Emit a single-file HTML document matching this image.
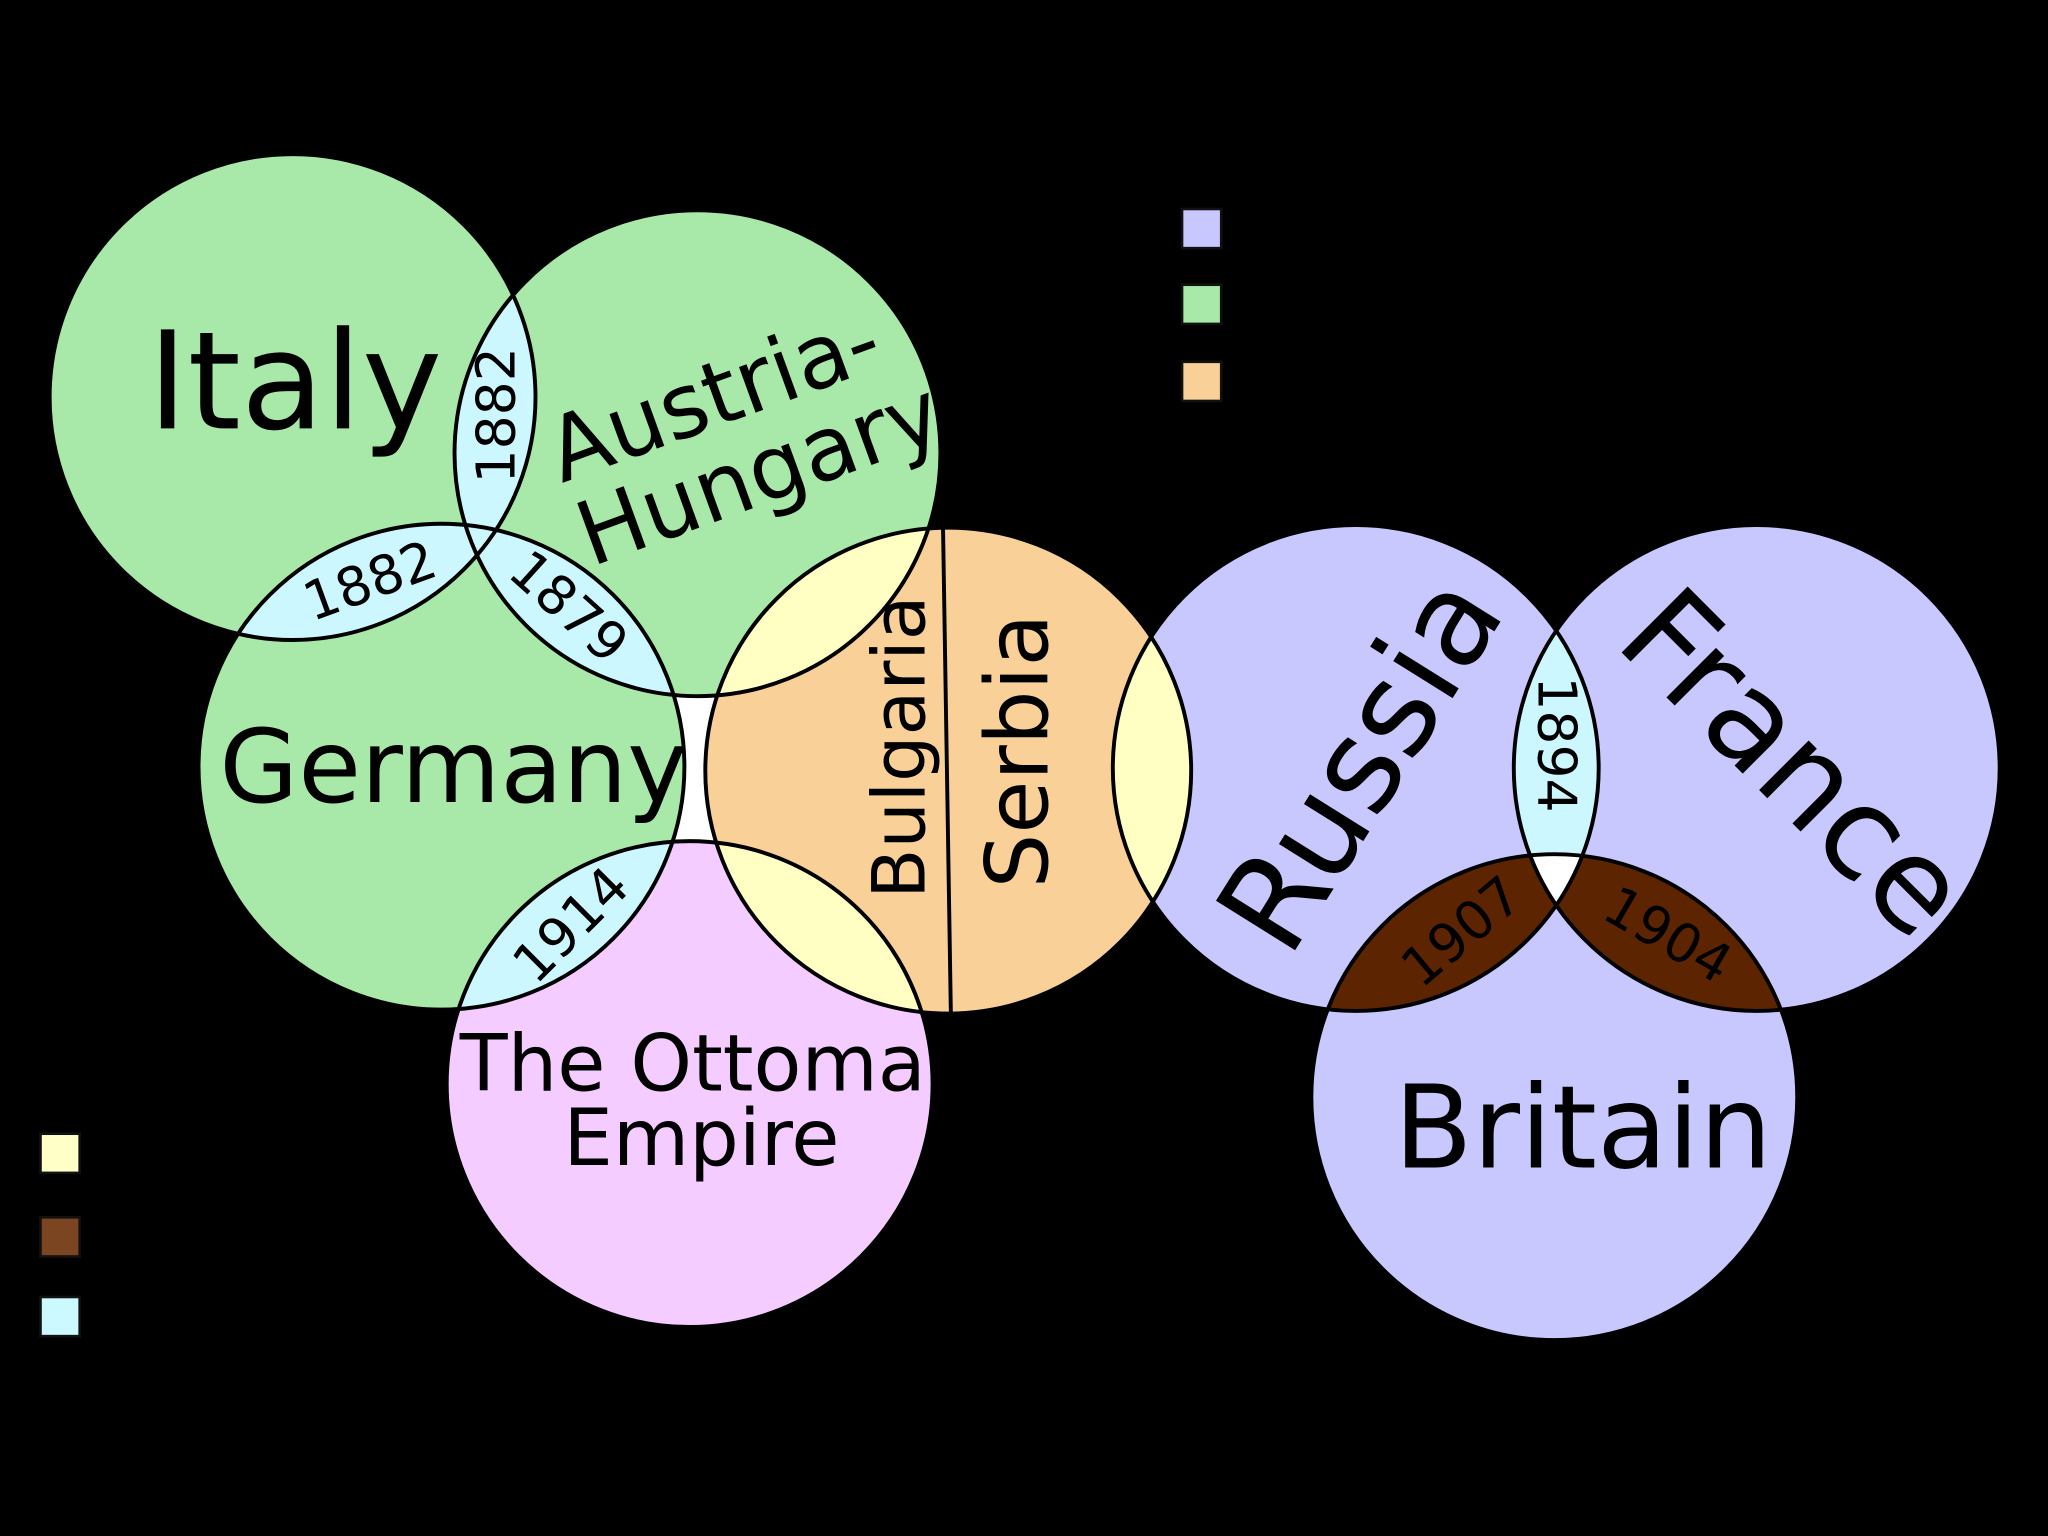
<!DOCTYPE html>
<html><head><meta charset="utf-8"><style>html,body{margin:0;padding:0;background:#000}svg{display:block}</style></head><body>
<svg width="2048" height="1536" viewBox="0 0 1568 1176" xmlns="http://www.w3.org/2000/svg" font-family="'DejaVu Sans','Liberation Sans',sans-serif">
<defs>
<clipPath id="cIt"><circle cx="224" cy="304" r="186"/></clipPath>
<clipPath id="cAu"><circle cx="534" cy="347" r="186"/></clipPath>
<clipPath id="cGe"><circle cx="338" cy="587" r="186"/></clipPath>
<clipPath id="cBu"><circle cx="726" cy="590" r="186"/></clipPath>
<clipPath id="cOt"><circle cx="528" cy="830" r="186"/></clipPath>
<clipPath id="cRu"><circle cx="1038" cy="588" r="186"/></clipPath>
<clipPath id="cFr"><circle cx="1345" cy="588" r="186"/></clipPath>
<clipPath id="cBr"><circle cx="1190" cy="840" r="186"/></clipPath>
</defs>
<rect width="1568" height="1176" fill="#000"/>
<rect x="515" y="530" width="35" height="118" fill="#fff"/>
<g>
<circle cx="224" cy="304" r="186" fill="#a8e8a8"/>
<circle cx="534" cy="347" r="186" fill="#a8e8a8"/>
<circle cx="338" cy="587" r="186" fill="#a8e8a8"/>
<circle cx="528" cy="830" r="186" fill="#f4ccff"/>
<circle cx="726" cy="590" r="186" fill="#f8d098"/>
<circle cx="1038" cy="588" r="186" fill="#c8c8ff"/>
<circle cx="1345" cy="588" r="186" fill="#c8c8ff"/>
<circle cx="1190" cy="840" r="186" fill="#c8c8ff"/>
</g>
<g clip-path="url(#cIt)"><circle cx="534" cy="347" r="186" fill="#ccf7ff"/><circle cx="338" cy="587" r="186" fill="#ccf7ff"/></g>
<g clip-path="url(#cAu)"><circle cx="338" cy="587" r="186" fill="#ccf7ff"/></g>
<g clip-path="url(#cGe)"><circle cx="528" cy="830" r="186" fill="#ccf7ff"/></g>
<g clip-path="url(#cBu)"><circle cx="534" cy="347" r="186" fill="#ffffc4"/><circle cx="528" cy="830" r="186" fill="#ffffc4"/><circle cx="1038" cy="588" r="186" fill="#ffffc4"/></g>
<g clip-path="url(#cRu)"><circle cx="1345" cy="588" r="186" fill="#ccf7ff"/><circle cx="1190" cy="840" r="186" fill="#5c2400"/></g>
<g clip-path="url(#cFr)"><circle cx="1190" cy="840" r="186" fill="#5c2400"/></g>
<g clip-path="url(#cRu)"><g clip-path="url(#cFr)"><circle cx="1190" cy="840" r="186" fill="#fff"/></g></g>
<g fill="none" stroke="#000" stroke-width="3">
<circle cx="224" cy="304" r="186"/>
<circle cx="534" cy="347" r="186"/>
<circle cx="338" cy="587" r="186"/>
<circle cx="528" cy="830" r="186"/>
<circle cx="726" cy="590" r="186"/>
<circle cx="1038" cy="588" r="186"/>
<circle cx="1345" cy="588" r="186"/>
<circle cx="1190" cy="840" r="186"/>
<line x1="722" y1="404" x2="728" y2="776"/>
</g>
<g fill="#000">
<text x="113" y="328" font-size="104">Italy</text>
<g transform="translate(558,334) rotate(-20)" font-size="68" text-anchor="middle"><text x="0" y="-10">Austria-</text><text x="12" y="58">Hungary</text></g>
<text x="168" y="614" font-size="78">Germany</text>
<text transform="translate(708,572) rotate(-90)" font-size="56" text-anchor="middle">Bulgaria</text>
<text transform="translate(802,575) rotate(-90)" font-size="66" text-anchor="middle">Serbia</text>
<text x="352" y="835" font-size="60">The Ottoma</text>
<text x="537" y="892" font-size="60" text-anchor="middle">Empire</text>
<text transform="translate(1070,602) rotate(-58)" font-size="98" text-anchor="middle">Russia</text>
<text transform="translate(1350,608) rotate(45)" font-size="98" text-anchor="middle">France</text>
<text x="1212" y="894" font-size="88" text-anchor="middle">Britain</text>
<g font-size="41" text-anchor="middle">
<text transform="translate(394,318) rotate(-90)">1882</text>
<text transform="translate(288,458) rotate(-20)">1882</text>
<text transform="translate(426,475) rotate(42)">1879</text>
<text transform="translate(447,718) rotate(-45)">1914</text>
<text transform="translate(1178,570) rotate(90)">1894</text>
<text transform="translate(1128,724) rotate(-40)">1907</text>
<text transform="translate(1270,728) rotate(30)">1904</text>
</g>
</g>
<g stroke="#111" stroke-width="2">
<rect x="905" y="160" width="30" height="30" fill="#c8c8ff"/>
<rect x="905" y="218" width="30" height="30" fill="#a8e8a8"/>
<rect x="905" y="277" width="30" height="30" fill="#f8d098"/>
<rect x="31" y="868" width="30" height="30" fill="#ffffc8"/>
<rect x="31" y="932" width="30" height="30" fill="#7a4520"/>
<rect x="31" y="993" width="30" height="30" fill="#ccf8ff"/>
</g>
</svg>
</body></html>
